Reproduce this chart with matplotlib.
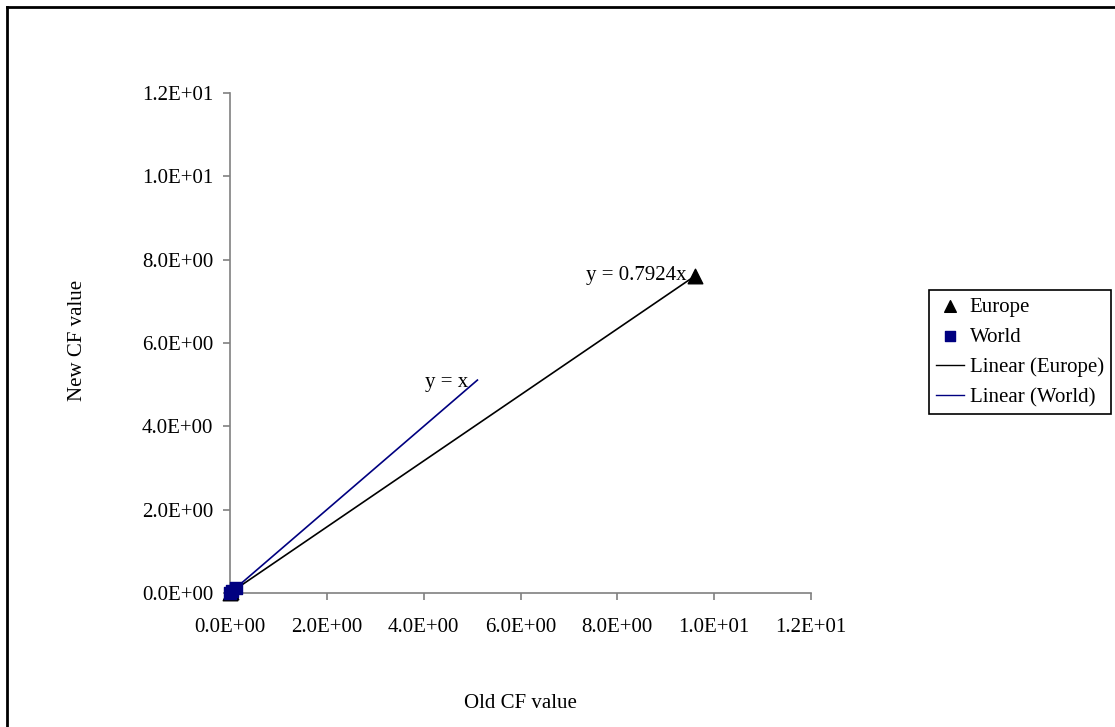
import matplotlib
matplotlib.use('Agg')
import matplotlib.pyplot as plt
from matplotlib.lines import Line2D
from matplotlib.ticker import FuncFormatter

# data
europe_x = [0.0, 0.03, 9.6]
europe_y = [0.0, 0.02, 7.61]
world_x = [0.0, 0.05, 0.12]
world_y = [0.0, 0.05, 0.12]

# trendlines (forced through origin, slope from the equation labels)
europe_slope = 0.7924
world_slope = 1.0
europe_trend_x = [0.0, 9.6]
world_trend_x = [0.0, 5.11]

ticks = [0, 2, 4, 6, 8, 10, 12]

plt.rcParams['font.family'] = ['Liberation Serif', 'DejaVu Serif']
plt.rcParams['font.size'] = 15

NAVY = '#000080'
GRAY = '#808080'

fig = plt.figure(figsize=(11.15, 7.27), dpi=100)
ax = fig.add_axes([230 / 1115, 1 - 593 / 727, (811 - 230) / 1115, (593 - 93) / 727])

ax.plot(europe_trend_x, [europe_slope * v for v in europe_trend_x], color='black', lw=1.2,
        label='Linear (Europe)', zorder=2, clip_on=False)
ax.plot(world_trend_x, [world_slope * v for v in world_trend_x], color=NAVY, lw=1.2,
        label='Linear (World)', zorder=3, clip_on=False)
ax.scatter(europe_x, europe_y, marker='^', s=110, color='black', label='Europe', zorder=4, clip_on=False)
ax.scatter(world_x, world_y, marker='s', s=70, color=NAVY, label='World', zorder=5, clip_on=False)

ax.text(9.44, 7.63, 'y = 0.7924x', ha='right', va='center')
ax.text(4.92, 5.06, 'y = x', ha='right', va='center')

ax.set_xlim(0, 12)
ax.set_ylim(0, 12)
ax.set_xticks(ticks)
ax.set_yticks(ticks)
ax.xaxis.set_major_formatter(FuncFormatter(lambda v, p: f'{v:.1E}'))
ax.yaxis.set_major_formatter(FuncFormatter(lambda v, p: f'{v:.1E}'))

for s in ['top', 'right']:
    ax.spines[s].set_visible(False)
for s in ['left', 'bottom']:
    ax.spines[s].set_color(GRAY)
    ax.spines[s].set_linewidth(1.2)
ax.tick_params(axis='both', direction='out', length=5, width=1.2, color=GRAY)
ax.tick_params(axis='y', pad=7)
ax.tick_params(axis='x', pad=13)

fig.text(77 / 1115, 1 - 340 / 727, 'New CF value', rotation=90, ha='center', va='center')
fig.text(520 / 1115, 1 - 703 / 727, 'Old CF value', ha='center', va='center')

handles, labels = ax.get_legend_handles_labels()
order = [labels.index(n) for n in ['Europe', 'World', 'Linear (Europe)', 'Linear (World)']]
leg = fig.legend([handles[i] for i in order], [labels[i] for i in order],
                 loc='upper left', bbox_to_anchor=(929 / 1115, 1 - 290 / 727),
                 bbox_transform=fig.transFigure, borderaxespad=0, fancybox=False,
                 framealpha=1, edgecolor='black', handlelength=1.35, handletextpad=0.25,
                 labelspacing=0.5, borderpad=0.35, markerscale=0.8)
leg.get_frame().set_linewidth(1.2)
for ln in leg.get_lines():
    ln.set_linewidth(1.0)

# chart area border (left and top edges visible)
fig.add_artist(Line2D([7 / 1115, 7 / 1115], [0, 1 - 7 / 727], color='black', lw=2,
                      transform=fig.transFigure))
fig.add_artist(Line2D([7 / 1115, 1], [1 - 7 / 727, 1 - 7 / 727], color='black', lw=2,
                      transform=fig.transFigure))

fig.savefig('out.png', dpi=100)
